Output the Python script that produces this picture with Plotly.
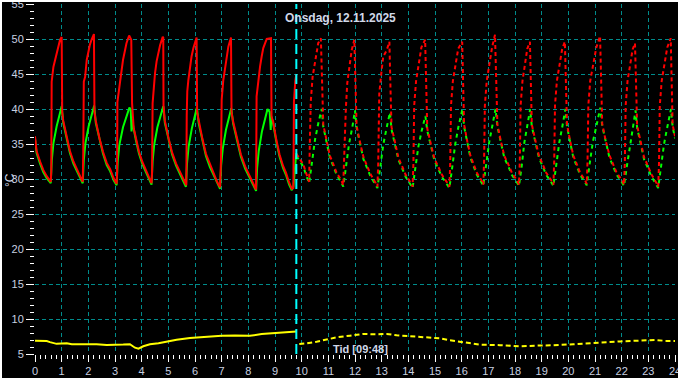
import plotly.graph_objects as go

# ---------------- data (hours, °C) ----------------
title_text = "Onsdag, 12.11.2025"
now_hour = 9.8
now_label = "Tid [09:48]"
x_ticks = list(range(0, 25))
y_ticks = list(range(5, 56, 5))

green_measured = [
    (0.00, 35.8), (0.06, 33.7), (0.19, 32.2), (0.31, 31.0), (0.44, 30.1), (0.59, 29.4),
    (0.63, 32.7), (0.69, 35.1), (0.81, 37.5), (0.94, 39.4), (1.00, 40.4),
    (1.06, 38.0), (1.19, 35.6), (1.31, 33.7), (1.44, 32.2), (1.56, 31.3), (1.69, 30.1), (1.79, 29.4),
    (1.83, 32.7), (1.89, 35.1), (2.01, 37.5), (2.16, 39.5), (2.22, 40.5),
    (2.28, 38.0), (2.42, 35.5), (2.55, 33.6), (2.69, 32.0), (2.82, 31.1), (2.95, 29.8), (3.06, 29.1),
    (3.10, 32.4), (3.16, 34.8), (3.30, 37.4), (3.46, 39.3), (3.54, 40.2), (3.59, 39.9), (3.62, 36.8), (3.64, 38.6),
    (3.66, 38.0), (3.78, 35.6), (3.90, 33.6), (4.03, 32.1), (4.15, 31.1), (4.27, 29.9), (4.37, 29.2),
    (4.41, 32.5), (4.47, 34.9), (4.59, 37.4), (4.75, 39.4), (4.81, 40.4),
    (4.87, 38.0), (5.01, 35.5), (5.14, 33.5), (5.29, 31.9), (5.41, 30.9), (5.55, 29.6), (5.66, 28.9),
    (5.70, 32.2), (5.76, 34.6), (5.88, 37.2), (6.01, 39.2), (6.07, 40.2),
    (6.14, 37.9), (6.28, 35.4), (6.41, 33.3), (6.56, 31.7), (6.69, 30.6), (6.83, 29.3), (6.94, 28.6),
    (6.98, 31.9), (7.04, 34.3), (7.16, 37.0), (7.30, 39.1), (7.36, 40.1),
    (7.43, 37.9), (7.58, 35.3), (7.72, 33.2), (7.88, 31.5), (8.02, 30.4), (8.17, 29.0), (8.29, 28.3),
    (8.33, 31.6), (8.39, 34.0), (8.51, 36.8), (8.66, 39.0), (8.72, 40.0), (8.80, 39.6), (8.84, 37.0), (8.86, 39.0),
    (8.93, 37.9), (9.05, 35.3), (9.17, 33.2), (9.30, 31.6), (9.41, 30.6), (9.53, 29.2), (9.63, 28.4),
    (9.69, 28.9), (9.74, 31.5), (9.80, 33.7),
]

red_measured = [
    (0.00, 36.1), (0.06, 34.0), (0.19, 32.5), (0.31, 31.3), (0.44, 30.4), (0.59, 29.6),
    (0.61, 31.0), (0.625, 43.9), (0.69, 46.0), (0.75, 47.0), (0.81, 48.2), (0.875, 49.1), (0.94, 49.9), (1.00, 50.3),
    (1.02, 39.5), (1.06, 38.3), (1.19, 35.9), (1.31, 34.0), (1.44, 32.5), (1.56, 31.6), (1.69, 30.4), (1.79, 29.6),
    (1.81, 33.7), (1.83, 43.9), (1.88, 44.6), (1.94, 47.0), (2.00, 48.2), (2.06, 49.2), (2.13, 50.0), (2.21, 50.7),
    (2.23, 39.5), (2.28, 38.3), (2.42, 35.8), (2.55, 33.9), (2.69, 32.3), (2.82, 31.4), (2.95, 30.1), (3.06, 29.3),
    (3.08, 31.0), (3.09, 41.0), (3.18, 43.6), (3.24, 45.3), (3.30, 47.0), (3.43, 49.4), (3.53, 50.5), (3.61, 49.9),
    (3.64, 40.8), (3.70, 37.3), (3.78, 35.9), (3.90, 33.9), (4.03, 32.4), (4.15, 31.4), (4.27, 30.2), (4.37, 29.4),
    (4.39, 31.0), (4.41, 40.8), (4.50, 45.1), (4.56, 46.8), (4.69, 49.1), (4.79, 50.3), (4.81, 50.2),
    (4.82, 40.5), (4.87, 38.3), (5.01, 35.8), (5.14, 33.8), (5.29, 32.2), (5.41, 31.2), (5.55, 29.9), (5.66, 29.1),
    (5.675, 29.1), (5.69, 39.1), (5.71, 42.5), (5.75, 44.1), (5.81, 46.0), (5.87, 47.5), (5.94, 48.7), (6.00, 49.4), (6.06, 50.2),
    (6.08, 39.5), (6.14, 38.2), (6.28, 35.7), (6.41, 33.6), (6.56, 32.0), (6.69, 30.9), (6.83, 29.6), (6.94, 28.8),
    (6.975, 32.7), (7.00, 41.3), (7.06, 44.1), (7.125, 46.0), (7.19, 47.7), (7.25, 48.9), (7.35, 50.2),
    (7.37, 39.5), (7.43, 38.2), (7.58, 35.6), (7.72, 33.5), (7.88, 31.8), (8.02, 30.7), (8.17, 29.3), (8.29, 28.5),
    (8.31, 41.8), (8.375, 44.2), (8.44, 46.1), (8.50, 47.5), (8.56, 48.7), (8.69, 50.0), (8.85, 50.1),
    (8.87, 38.9), (8.93, 38.2), (9.05, 35.6), (9.17, 33.5), (9.30, 31.9), (9.41, 30.9), (9.53, 29.5), (9.63, 28.6),
    (9.69, 28.7), (9.70, 36.0), (9.71, 41.0), (9.76, 44.0), (9.80, 45.0),
]

green_forecast = [
    (9.80, 33.3), (9.94, 32.5), (10.06, 31.8), (10.18, 30.4), (10.28, 29.4),
    (10.38, 32.2), (10.50, 35.6), (10.62, 37.9), (10.75, 40.0),
    (10.81, 37.5), (10.94, 35.1), (11.06, 33.0), (11.19, 31.8), (11.31, 30.6), (11.50, 29.4), (11.56, 28.9),
    (11.66, 31.7), (11.78, 35.1), (11.90, 37.4), (12.00, 39.8),
    (12.06, 37.3), (12.19, 34.9), (12.32, 32.8), (12.45, 31.6), (12.58, 30.4), (12.78, 29.1), (12.84, 28.7),
    (12.94, 31.5), (13.06, 34.9), (13.18, 37.2), (13.31, 39.5),
    (13.37, 37.1), (13.51, 34.8), (13.63, 32.7), (13.77, 31.5), (13.90, 30.3), (14.10, 29.1), (14.16, 28.7),
    (14.26, 31.5), (14.38, 34.7), (14.50, 36.9), (14.64, 39.0),
    (14.71, 36.9), (14.85, 34.6), (14.98, 32.6), (15.13, 31.4), (15.26, 30.3), (15.47, 29.1), (15.54, 28.7),
    (15.64, 31.5), (15.76, 35.0), (15.88, 37.5), (16.03, 40.0),
    (16.09, 37.5), (16.21, 35.1), (16.33, 33.0), (16.45, 31.8), (16.57, 30.6), (16.76, 29.4), (16.81, 29.0),
    (16.91, 31.8), (17.03, 35.2), (17.15, 37.6), (17.27, 40.0),
    (17.34, 37.5), (17.47, 35.1), (17.60, 33.0), (17.75, 31.8), (17.88, 30.6), (18.09, 29.4), (18.15, 29.0),
    (18.25, 31.8), (18.35, 35.2), (18.46, 37.6), (18.57, 40.0),
    (18.63, 37.5), (18.77, 35.1), (18.90, 33.0), (19.04, 31.8), (19.17, 30.6), (19.38, 29.4), (19.44, 29.0),
    (19.54, 31.8), (19.66, 35.2), (19.78, 37.6), (19.89, 40.0),
    (19.95, 37.5), (20.07, 35.1), (20.19, 33.0), (20.32, 31.8), (20.44, 30.6), (20.63, 29.5), (20.69, 29.1),
    (20.79, 31.9), (20.92, 35.3), (21.06, 37.7), (21.20, 40.2),
    (21.27, 37.6), (21.40, 35.2), (21.54, 33.1), (21.68, 31.8), (21.81, 30.6), (22.03, 29.4), (22.09, 29.0),
    (22.19, 31.7), (22.31, 35.0), (22.42, 37.3), (22.52, 39.8),
    (22.58, 37.3), (22.72, 34.9), (22.84, 32.8), (22.98, 31.6), (23.11, 30.4), (23.31, 29.1), (23.37, 28.7),
    (23.47, 31.6), (23.59, 35.0), (23.71, 37.4), (23.85, 40.0),
    (23.91, 37.5), (24.00, 35.8),
]

red_forecast = [
    (9.80, 33.6), (9.94, 32.8), (10.06, 32.1), (10.18, 30.7), (10.28, 29.6),
    (10.31, 35.8), (10.34, 41.0), (10.41, 44.6), (10.50, 46.5), (10.62, 49.4), (10.72, 50.1),
    (10.76, 43.5), (10.81, 37.8), (10.94, 35.4), (11.06, 33.3), (11.19, 32.1), (11.31, 30.9), (11.50, 29.7), (11.56, 29.1),
    (11.59, 32.7), (11.625, 37.0), (11.66, 40.3), (11.71, 43.7), (11.81, 46.5), (11.875, 48.4), (11.975, 49.9),
    (12.02, 43.0), (12.06, 37.6), (12.19, 35.2), (12.32, 33.1), (12.45, 31.9), (12.58, 30.7), (12.78, 29.4), (12.84, 28.9),
    (12.87, 32.2), (12.91, 42.2), (13.00, 45.6), (13.06, 47.5), (13.19, 48.4), (13.29, 49.6),
    (13.33, 43.0), (13.37, 37.4), (13.51, 35.1), (13.63, 33.0), (13.77, 31.8), (13.90, 30.6), (14.10, 29.4), (14.16, 28.9),
    (14.19, 32.2), (14.22, 40.5), (14.29, 44.0), (14.39, 46.5), (14.49, 48.8), (14.63, 49.9),
    (14.66, 43.0), (14.71, 37.2), (14.85, 34.9), (14.98, 32.9), (15.13, 31.7), (15.26, 30.6), (15.47, 29.4), (15.54, 28.9),
    (15.57, 32.2), (15.60, 40.5), (15.67, 44.0), (15.77, 46.5), (15.87, 48.6), (16.02, 49.6),
    (16.05, 43.0), (16.09, 37.8), (16.21, 35.4), (16.33, 33.3), (16.45, 32.1), (16.57, 30.9), (16.76, 29.7), (16.81, 29.2),
    (16.84, 32.5), (16.87, 40.5), (16.94, 44.0), (17.04, 46.5), (17.14, 48.8), (17.25, 50.6),
    (17.29, 43.0), (17.34, 37.8), (17.47, 35.4), (17.60, 33.3), (17.75, 32.1), (17.88, 30.9), (18.09, 29.7), (18.15, 29.2),
    (18.18, 32.5), (18.21, 40.5), (18.28, 44.0), (18.37, 46.5), (18.46, 48.6), (18.56, 49.6),
    (18.59, 43.0), (18.63, 37.8), (18.77, 35.4), (18.90, 33.3), (19.04, 32.1), (19.17, 30.9), (19.38, 29.7), (19.44, 29.2),
    (19.47, 32.5), (19.50, 40.5), (19.57, 44.0), (19.67, 46.5), (19.77, 48.6), (19.87, 49.6),
    (19.91, 43.0), (19.95, 37.8), (20.07, 35.4), (20.19, 33.3), (20.32, 32.1), (20.44, 30.9), (20.63, 29.8), (20.69, 29.3),
    (20.72, 32.6), (20.75, 40.5), (20.82, 44.0), (20.93, 46.5), (21.05, 48.8), (21.19, 50.4),
    (21.23, 43.0), (21.27, 37.9), (21.40, 35.5), (21.54, 33.4), (21.68, 32.1), (21.81, 30.9), (22.03, 29.7), (22.09, 29.2),
    (22.12, 32.5), (22.15, 40.5), (22.22, 44.0), (22.31, 46.5), (22.41, 48.5), (22.50, 49.4),
    (22.54, 43.0), (22.58, 37.6), (22.72, 35.2), (22.84, 33.1), (22.98, 31.9), (23.11, 30.7), (23.31, 29.4), (23.37, 28.9),
    (23.40, 32.2), (23.43, 40.5), (23.50, 44.0), (23.60, 46.5), (23.71, 48.8), (23.84, 50.1),
    (23.87, 43.0), (23.91, 37.8), (24.00, 36.1),
]

outdoor_measured = [
    (0.00, 6.9), (0.44, 6.86), (0.56, 6.7), (0.81, 6.45), (1.19, 6.55), (1.38, 6.4), (2.31, 6.4),
    (2.69, 6.3), (3.31, 6.35), (3.56, 6.4), (3.75, 5.9), (3.88, 5.76), (4.06, 6.1), (4.31, 6.4),
    (4.63, 6.55), (5.00, 6.84), (5.31, 7.05), (5.81, 7.3), (6.19, 7.43), (6.60, 7.5), (7.00, 7.6),
    (7.50, 7.65), (8.06, 7.6), (8.50, 7.85), (8.94, 7.95), (9.30, 8.05), (9.75, 8.2), (9.80, 8.2),
]

outdoor_forecast = [
    (9.91, 6.43), (10.19, 6.52), (10.56, 6.76), (10.94, 7.1), (11.31, 7.38), (11.81, 7.62),
    (12.31, 7.86), (12.81, 7.81), (13.19, 7.86), (13.56, 7.67), (13.94, 7.57), (14.56, 7.47),
    (15.19, 7.24), (15.50, 7.0), (16.00, 6.7), (16.30, 6.5), (16.69, 6.33), (17.44, 6.26),
    (18.19, 6.1), (18.81, 6.2), (19.44, 6.24), (20.19, 6.4), (21.06, 6.52), (21.44, 6.67),
    (21.94, 6.8), (22.44, 6.86), (23.25, 7.0), (23.69, 6.86), (24.00, 6.86),
]

# ---------------- figure ----------------
W, H = 680, 380
ML, MR, MT, MB = 35, 5, 4, 26
PW, PH = W - ML - MR, H - MT - MB


def px_x(p):
    return (p - ML) / PW


def px_y(p):
    return (H - MB - p) / PH


txt_col = "#d0d8e8"
tick_col = "#c8d0e0"
grid_col = "#008b8b"
FONT = "Liberation Sans, Arial, sans-serif"

fig = go.Figure()


def add(series, color, dash):
    xs = [p[0] for p in series]
    ys = [p[1] for p in series]
    fig.add_trace(go.Scatter(x=xs, y=ys, mode="lines",
                             line=dict(color=color, width=2, dash=dash),
                             hoverinfo="skip"))


add(green_measured, "#00ff00", "solid")
add(red_measured, "#ff0000", "solid")
add(green_forecast, "#00ff00", "4px,4px")
add(red_forecast, "#ff0000", "4px,3px")
add(outdoor_measured, "#ffff00", "solid")
add(outdoor_forecast, "#ffff00", "5px,3px")

axis_common = dict(
    showgrid=True, gridcolor=grid_col, gridwidth=1, griddash="4px,3px",
    zeroline=False, showline=False, automargin=False,
    ticks="outside", tickcolor="#ffffff", tickwidth=1,
    tickfont=dict(family=FONT, size=11, color=tick_col),
    ticklabeloverflow="allow",
    fixedrange=True,
)

fig.update_xaxes(range=[0, 24], tickmode="array", tickvals=x_ticks,
                 ticktext=[str(v) for v in x_ticks], ticklen=7,
                 minor=dict(dtick=0.2, tick0=0, ticks="outside", ticklen=4,
                            tickcolor="#ffffff", showgrid=False),
                 **axis_common)
fig.update_yaxes(range=[5, 55], tickmode="array", tickvals=y_ticks,
                 ticktext=[str(v) for v in y_ticks], ticklen=8,
                 minor=dict(dtick=1, tick0=0, ticks="outside", ticklen=4,
                            tickcolor="#ffffff", showgrid=False),
                 **axis_common)

fig.add_shape(type="line", xref="x", yref="paper", x0=now_hour, x1=now_hour, y0=0, y1=1,
              line=dict(color="#00ffff", width=2, dash="10px,5px"))

fig.add_shape(type="rect", xref="paper", yref="paper",
              x0=px_x(1), x1=px_x(679), y0=px_y(379), y1=px_y(1),
              line=dict(color="#ffffff", width=2), fillcolor="rgba(0,0,0,0)")

fig.add_annotation(xref="paper", yref="paper", x=px_x(340), y=px_y(18),
                   text=title_text, showarrow=False, xanchor="center", yanchor="middle",
                   font=dict(family=FONT, size=12, color=txt_col, weight="bold"))
fig.add_annotation(xref="paper", yref="paper", x=px_x(360), y=px_y(349),
                   text=now_label, showarrow=False, xanchor="center", yanchor="middle",
                   font=dict(family=FONT, size=11, color=txt_col, weight="bold"))
fig.add_annotation(xref="paper", yref="paper", x=px_x(10), y=px_y(180),
                   text="°C", showarrow=False, xanchor="center", yanchor="middle",
                   textangle=-90, font=dict(family=FONT, size=12, color=txt_col))

fig.update_layout(width=W, height=H, margin=dict(l=ML, r=MR, t=MT, b=MB, autoexpand=False),
                  paper_bgcolor="#000000", plot_bgcolor="#000000",
                  showlegend=False)

fig.write_html("out.html", config={"displayModeBar": False},
               post_script="document.body.style.margin='0';document.body.style.background='#000';")
